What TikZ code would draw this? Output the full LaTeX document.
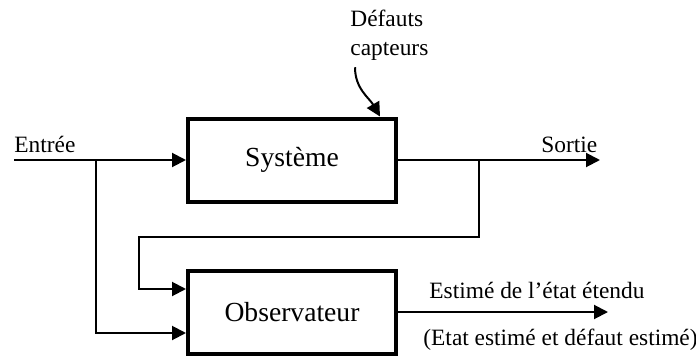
\documentclass[tikz,border=0pt]{standalone}
\usepackage{fontspec}
\setmainfont{Liberation Serif}
\usetikzlibrary{arrows.meta, positioning}

\begin{document}
\begin{tikzpicture}[x=0.5pt, y=0.5pt,
    block/.style={draw, line width=2pt, minimum width=104pt, minimum height=41.5pt, font=\fontsize{13.8}{16}\selectfont},
    lbl/.style={inner sep=0pt, font=\fontsize{11.7}{14.5}\selectfont},
    sig/.style={line width=1pt, arrows = {-Triangle[length=7pt, width=7pt]}}]

    \useasboundingbox (0,0) rectangle (696,360);

    % Nodes
    \node[block] (sys) at (292,200) {Système};
    \node[block, below=32.5pt of sys] (obs) {Observateur};

    \coordinate (in) at (14,200);
    \coordinate (split1) at (96,200);
    \coordinate (out) at (600,200);
    \coordinate (split2) at (479,200);
    \coordinate (fb) at (139,123);
    \coordinate[right=105pt of obs] (est);

    % Labels
    \node[lbl, anchor=base west] (entree) at (14,208) {Entrée};
    \node[lbl, anchor=base west] (sortie) at (541,208) {Sortie};
    \node[lbl, anchor=north west, align=left] (defaut) at (350,350) {Défauts\\capteurs};
    \node[lbl, anchor=base west] (estime) at (429,62) {Estimé de l’état étendu};
    \node[lbl, anchor=base west] (detail) at (423,15) {(Etat estimé et défaut estimé)};

    % Connections
    \draw[sig] (in) -- (sys);
    \draw[sig] (sys) -- (out);
    \draw[sig] (split1) |- ([yshift=-10.5pt]obs.west);
    \draw[sig] (split2) |- (fb) |- ([yshift=11.5pt]obs.west);
    \draw[sig] (obs) -- (est);
    \draw[sig] ([xshift=2.5pt, yshift=-3pt]defaut.south west) to[out=-90, in=120] ([xshift=-9pt]sys.north east);
\end{tikzpicture}
\end{document}
